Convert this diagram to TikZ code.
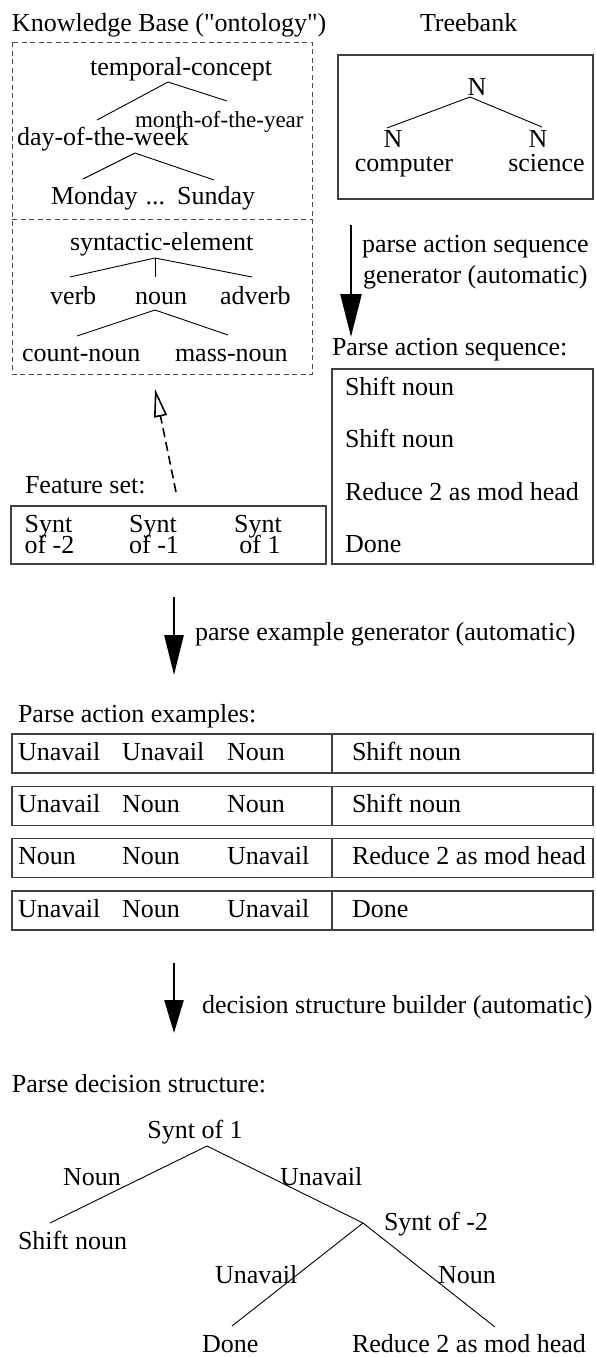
\documentclass[tikz,border=0pt]{standalone}
\usepackage{fontspec}
\setmainfont{Liberation Serif}[Ligatures=TeXOff]
\usetikzlibrary{arrows.meta}
\begin{document}
\begin{tikzpicture}[x=1pt,y=-1pt,
  txt/.style={inner sep=0pt, outer sep=0pt, anchor=base west, font=\fontsize{26}{30}\selectfont},
  ctxt/.style={txt, anchor=base},
  smalltxt/.style={txt, font=\fontsize{23}{27}\selectfont},
  box/.style={draw=black!75, line width=1.3pt, rectangle, inner sep=0pt, outer sep=0pt, anchor=north west},
  kbline/.style={draw=black!70, line width=1pt, dash pattern=on 5pt off 3.5pt},
  branch/.style={line width=0.9pt},
  flow/.style={line width=2.6pt},
  link/.style={line width=1.6pt, dash pattern=on 9pt off 5pt, -{Triangle[open,length=28pt,width=13pt]}}
]
\useasboundingbox (0,0) rectangle (595,1357);

% ---------- knowledge base ----------
\node[txt] (kbtitle) at (12,31.5) {Knowledge Base ("ontology")};
\draw[kbline] (12,42) rectangle (312,374);
\draw[kbline] (12,219) -- (312,219);

\node[ctxt] (tc) at (181,75) {temporal-concept};
\node[smalltxt] (moy) at (135,127.5) {month-of-the-year};
\node[txt] (dow) at (17,145) {day-of-the-week};
\node[txt] (days) at (51,204) {Monday\hspace{8pt}...\hspace{12pt}Sunday};
\coordinate (tcj) at (168,82);
\coordinate (dowj-top) at (97,120);
\coordinate (moyj-top) at (227,101);
\draw[branch] (dowj-top) -- (tcj) -- (moyj-top);
\coordinate (dowj) at (135,153);
\coordinate (monj) at (83,179);
\coordinate (sunj) at (214,180);
\draw[branch] (monj) -- (dowj) -- (sunj);

\node[txt] (se) at (70,250) {syntactic-element};
\node[txt] (verb) at (50,304) {verb};
\node[txt] (noun) at (135,304) {noun};
\node[txt] (adverb) at (220,304) {adverb};
\node[txt] (cnoun) at (22,361) {count-noun};
\node[txt] (mnoun) at (175,361) {mass-noun};
\coordinate (sej) at (155,258);
\coordinate (verbj) at (70,277);
\coordinate (nounj-top) at (155,277);
\coordinate (adverbj) at (252,277);
\draw[branch] (verbj) -- (sej) -- (adverbj);
\draw[branch] (sej) -- (nounj-top);
\coordinate (nounj) at (155,310);
\coordinate (cnounj) at (77,336);
\coordinate (mnounj) at (228,335);
\draw[branch] (cnounj) -- (nounj) -- (mnounj);

% ---------- treebank ----------
\node[txt] (tbtitle) at (420,31.5) {Treebank};
\node[box, minimum width=255pt, minimum height=144pt] (tb) at (338,55) {};
\node[ctxt] (nroot) at (477,95) {N};
\node[ctxt] (nleft) at (393,147) {N};
\node[ctxt] (nright) at (538,147) {N};
\node[ctxt] (comp) at (404,171) {computer};
\node[ctxt] (sci) at (546.5,171) {science};
\coordinate (nj) at (470,97);
\coordinate (nlj) at (387,128);
\coordinate (nrj) at (542,127);
\draw[branch] (nlj) -- (nj) -- (nrj);

% ---------- sequence generator ----------
\coordinate (a1s) at (351,225);
\coordinate (a1e) at (351,337);
\draw[flow, -{Triangle[length=43pt,width=21pt]}] (a1s) -- (a1e);
\node[txt] (a1la) at (362,252) {parse action sequence};
\node[txt] (a1lb) at (363,283) {generator (automatic)};

\node[txt] (seqtitle) at (332,355) {Parse action sequence:};
\node[box, minimum width=261pt, minimum height=195pt] (seq) at (332,369) {};
\node[txt] (sq1) at (345,395) {Shift noun};
\node[txt] (sq2) at (345,447) {Shift noun};
\node[txt] (sq3) at (345,500) {Reduce 2 as mod head};
\node[txt] (sq4) at (345,552) {Done};

% ---------- feature set ----------
\coordinate (ls) at (176,492);
\coordinate (le) at (155,389);
\draw[link] (ls) -- (le);

\node[txt] (fstitle) at (25,493) {Feature set:};
\node[box, minimum width=315pt, minimum height=58pt] (fs) at (11,506) {};
\node[ctxt] (f1a) at (48.5,532) {Synt};
\node[ctxt] (f1b) at (49.5,553) {of -2};
\node[ctxt] (f2a) at (153,532) {Synt};
\node[ctxt] (f2b) at (154,553) {of -1};
\node[ctxt] (f3a) at (258,532) {Synt};
\node[ctxt] (f3b) at (260,553) {of 1};

% ---------- example generator ----------
\coordinate (a2s) at (174,597);
\coordinate (a2e) at (174,675);
\draw[flow, -{Triangle[length=40pt,width=19pt]}] (a2s) -- (a2e);
\node[txt] (a2l) at (195,640) {parse example generator (automatic)};

\node[txt] (extitle) at (18,722) {Parse action examples:};
\foreach \t/\a/\b/\c/\d [count=\i] in {
    734/Unavail/Unavail/Noun/Shift noun,
    786.3/Unavail/Noun/Noun/Shift noun,
    838.7/Noun/Noun/Unavail/Reduce 2 as mod head,
    891/Unavail/Noun/Unavail/Done} {
  \node[box, minimum width=581pt, minimum height=39pt] (row\i) at (12,\t) {};
  \draw[draw=black!75, line width=1.3pt] (row\i.north west -| 332,0) -- (row\i.south west -| 332,0);
  \node[txt] (row\i a) at (18,\t+26) {\a};
  \node[txt] (row\i b) at (122,\t+26) {\b};
  \node[txt] (row\i c) at (227,\t+26) {\c};
  \node[txt] (row\i d) at (352,\t+26) {\d};
}

% ---------- structure builder ----------
\coordinate (a3s) at (174,963);
\coordinate (a3e) at (174,1033);
\draw[flow, -{Triangle[length=33pt,width=19pt]}] (a3s) -- (a3e);
\node[txt] (a3l) at (202,1013) {decision structure builder (automatic)};

\node[txt] (dstitle) at (12,1092) {Parse decision structure:};
\node[ctxt] (s1) at (195,1138) {Synt of 1};
\node[txt] (lnoun) at (63,1185) {Noun};
\node[txt] (lunav) at (280,1185) {Unavail};
\node[txt] (shift) at (18,1249) {Shift noun};
\node[txt] (s2) at (384,1230) {Synt of -2};
\node[txt] (lunav2) at (215,1283) {Unavail};
\node[txt] (lnoun2) at (438,1283) {Noun};
\node[txt] (done) at (202,1352) {Done};
\node[txt] (reduce) at (352,1352) {Reduce 2 as mod head};
\coordinate (s1j) at (207,1146);
\coordinate (shiftj) at (50,1223);
\coordinate (s2j) at (363,1223);
\coordinate (donej) at (232,1326);
\coordinate (reducej) at (495,1327);
\draw[branch] (shiftj) -- (s1j) -- (s2j);
\draw[branch] (donej) -- (s2j) -- (reducej);
\end{tikzpicture}
\end{document}
